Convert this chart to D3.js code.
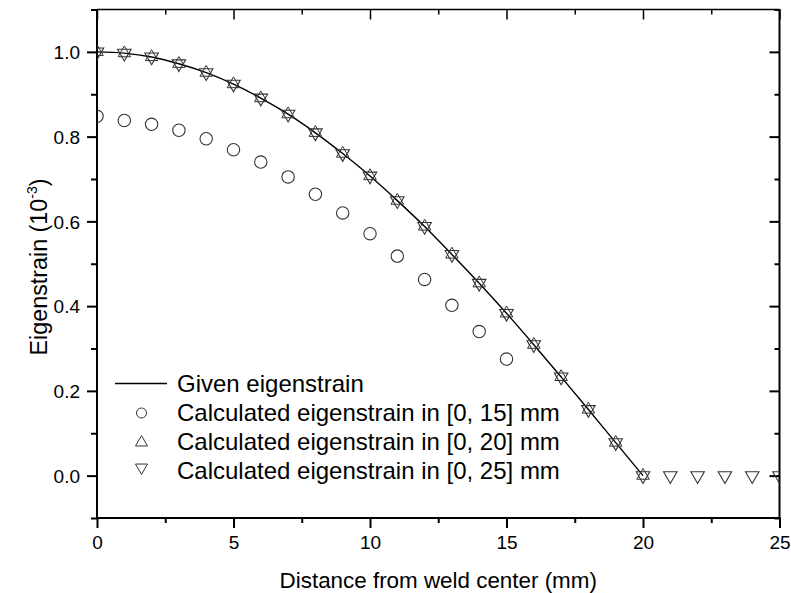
<!DOCTYPE html>
<html>
<head>
<meta charset="utf-8">
<script src="https://cdn.jsdelivr.net/npm/d3@7/dist/d3.min.js"></script>
<style>
  html, body { margin: 0; padding: 0; background: #fff; }
  svg { display: block; font-family: "Liberation Sans", Arial, sans-serif; }
</style>
</head>
<body>
<svg id="chart" width="791" height="593"></svg>
<script>
// ---- data ----
const xGiven = [0,1,2,3,4,5,6,7,8,9,10,11,12,13,14,15,16,17,18,19,20];
const givenValues = [1.000,0.997,0.988,0.972,0.951,0.924,0.891,0.853,0.809,0.760,0.707,0.649,0.588,0.522,0.454,0.383,0.309,0.233,0.156,0.078,0.000];

const x15 = [0,1,2,3,4,5,6,7,8,9,10,11,12,13,14,15];
const calc15 = [0.848,0.838,0.829,0.815,0.795,0.769,0.740,0.705,0.664,0.620,0.571,0.518,0.463,0.402,0.340,0.275];

const x20 = [0,1,2,3,4,5,6,7,8,9,10,11,12,13,14,15,16,17,18,19,20];
const calc20 = [1.000,0.997,0.988,0.972,0.951,0.924,0.891,0.853,0.809,0.760,0.707,0.649,0.588,0.522,0.454,0.383,0.309,0.233,0.156,0.078,0.000];

const x25 = [0,1,2,3,4,5,6,7,8,9,10,11,12,13,14,15,16,17,18,19,20,21,22,23,24,25];
const calc25 = [1.000,0.997,0.988,0.972,0.951,0.924,0.891,0.853,0.809,0.760,0.707,0.649,0.588,0.522,0.454,0.383,0.309,0.233,0.156,0.078,0.000,0.000,0.000,0.000,0.000,0.000];

const xMajorTicks = [0,5,10,15,20,25];
const xMinorTicks = [2.5,7.5,12.5,17.5,22.5];
const yMajorTicks = [0.0,0.2,0.4,0.6,0.8,1.0];
const yMinorTicks = [-0.1,0.1,0.3,0.5,0.7,0.9,1.1];

const legendLabels = [
  "Given eigenstrain",
  "Calculated eigenstrain in [0, 15] mm",
  "Calculated eigenstrain in [0, 20] mm",
  "Calculated eigenstrain in [0, 25] mm"
];
const xTitle = "Distance from weld center (mm)";
const yTitle = "Eigenstrain (10";
const yTitleSup = "-3";

// ---- layout ----
const L = 97, R = 779.5, T = 9.5, B = 518;
const svg = d3.select("#chart");
const x = d3.scaleLinear().domain([0, 25]).range([L, R]);
const y = d3.scaleLinear().domain([-0.1, 1.1]).range([B, T]);

svg.append("defs").append("clipPath").attr("id", "plotclip")
  .append("rect").attr("x", L).attr("y", T).attr("width", R - L).attr("height", B - T);

// ---- axes ----
function styleAxis(g, sw) {
  g.select(".domain").remove();
  g.selectAll(".tick line").attr("stroke", "#000").attr("stroke-width", sw);
}
const tickFont = 19;
const FF = "Liberation Sans, Arial, sans-serif";

svg.append("g").attr("transform", `translate(0,${B})`)
  .call(d3.axisBottom(x).tickValues(xMajorTicks).tickSize(10).tickFormat(d3.format("d")))
  .call(g => styleAxis(g, 2))
  .call(g => g.selectAll("text").attr("font-size", tickFont).attr("fill", "#000")
      .attr("font-family", FF).attr("dy", "0.71em").attr("y", 18));
svg.append("g").attr("transform", `translate(0,${B})`)
  .call(d3.axisBottom(x).tickValues(xMinorTicks).tickSize(5).tickFormat(""))
  .call(g => styleAxis(g, 2));

svg.append("g").attr("transform", `translate(${L},0)`)
  .call(d3.axisLeft(y).tickValues(yMajorTicks).tickSize(10).tickPadding(7).tickFormat(d3.format(".1f")))
  .call(g => styleAxis(g, 2))
  .call(g => g.selectAll("text").attr("font-size", tickFont).attr("fill", "#000")
      .attr("font-family", FF).attr("dy", "0.36em"));
svg.append("g").attr("transform", `translate(${L},0)`)
  .call(d3.axisLeft(y).tickValues(yMinorTicks).tickSize(6).tickFormat(""))
  .call(g => styleAxis(g, 2));

// top (inward)
svg.append("g").attr("transform", `translate(0,${T})`)
  .call(d3.axisBottom(x).tickValues(xMajorTicks).tickSize(10).tickFormat(""))
  .call(g => styleAxis(g, 1.5));
svg.append("g").attr("transform", `translate(0,${T})`)
  .call(d3.axisBottom(x).tickValues(xMinorTicks).tickSize(5).tickFormat(""))
  .call(g => styleAxis(g, 1.5));
// right (inward)
svg.append("g").attr("transform", `translate(${R},0)`)
  .call(d3.axisLeft(y).tickValues(yMajorTicks).tickSize(10).tickFormat(""))
  .call(g => styleAxis(g, 2));
svg.append("g").attr("transform", `translate(${R},0)`)
  .call(d3.axisLeft(y).tickValues(yMinorTicks).tickSize(5).tickFormat(""))
  .call(g => styleAxis(g, 2));

// frame
svg.append("line").attr("x1", L).attr("x2", R).attr("y1", T).attr("y2", T).attr("stroke", "#000").attr("stroke-width", 1.3);
svg.append("line").attr("x1", L).attr("x2", R + 1).attr("y1", B).attr("y2", B).attr("stroke", "#000").attr("stroke-width", 2);
svg.append("line").attr("x1", L).attr("x2", L).attr("y1", T - 0.6).attr("y2", B + 1).attr("stroke", "#000").attr("stroke-width", 2);
svg.append("line").attr("x1", R).attr("x2", R).attr("y1", T - 0.6).attr("y2", B + 1).attr("stroke", "#000").attr("stroke-width", 2);

// ---- marks ----
const plot = svg.append("g").attr("clip-path", "url(#plotclip)");

const lineGen = d3.line().x(d => x(d[0])).y(d => y(d[1])).curve(d3.curveMonotoneX);
plot.append("path")
  .datum(xGiven.map((v, i) => [v, givenValues[i]]))
  .attr("d", lineGen).attr("fill", "none").attr("stroke", "#000").attr("stroke-width", 1.4);

function triPath(s, up) {
  const h = s * Math.sqrt(3) / 2;
  if (up) return `M0,${-2*h/3}L${s/2},${h/3}L${-s/2},${h/3}Z`;
  return `M0,${2*h/3}L${s/2},${-h/3}L${-s/2},${-h/3}Z`;
}
const markStroke = "#333";

plot.selectAll(".c15").data(x15.map((v, i) => [v, calc15[i]])).join("circle")
  .attr("cx", d => x(d[0])).attr("cy", d => y(d[1])).attr("r", 6.2)
  .attr("fill", "none").attr("stroke", markStroke).attr("stroke-width", 1.1);

plot.selectAll(".c20").data(x20.map((v, i) => [v, calc20[i]])).join("path")
  .attr("transform", d => `translate(${x(d[0])},${y(d[1])})`)
  .attr("d", triPath(12.5, true))
  .attr("fill", "none").attr("stroke", markStroke).attr("stroke-width", 1);

plot.selectAll(".c25").data(x25.map((v, i) => [v, calc25[i]])).join("path")
  .attr("transform", d => `translate(${x(d[0])},${y(d[1])})`)
  .attr("d", triPath(13.5, false))
  .attr("fill", "none").attr("stroke", markStroke).attr("stroke-width", 1.1);

// ---- legend ----
const legFont = 24;
const legX = 177, legRows = [391.5, 421, 450, 479];
const legMX = 141.5;
const leg = svg.append("g");
leg.append("line").attr("x1", 115).attr("x2", 167).attr("y1", legRows[0] - 8).attr("y2", legRows[0] - 8)
  .attr("stroke", "#000").attr("stroke-width", 1.5);
leg.append("circle").attr("cx", legMX).attr("cy", legRows[1] - 8).attr("r", 5)
  .attr("fill", "none").attr("stroke", markStroke).attr("stroke-width", 1);
leg.append("path").attr("transform", `translate(${legMX},${legRows[2] - 7.5})`).attr("d", triPath(12, true))
  .attr("fill", "none").attr("stroke", markStroke).attr("stroke-width", 1);
leg.append("path").attr("transform", `translate(${legMX},${legRows[3] - 11.5})`).attr("d", triPath(12, false))
  .attr("fill", "none").attr("stroke", markStroke).attr("stroke-width", 1);
leg.selectAll("text").data(legendLabels).join("text")
  .attr("x", legX).attr("y", (d, i) => legRows[i])
  .attr("font-size", legFont).attr("fill", "#000").text(d => d);

// ---- titles ----
svg.append("text").attr("x", (L + R) / 2).attr("y", 588).attr("text-anchor", "middle")
  .attr("font-size", 22.4).attr("fill", "#000").text(xTitle);

const yt = svg.append("text").attr("transform", "translate(46.5,267) rotate(-90)")
  .attr("text-anchor", "middle").attr("font-size", 23.3).attr("fill", "#000");
yt.append("tspan").text(yTitle);
yt.append("tspan").attr("font-size", 14).attr("dy", -10).text(yTitleSup);
yt.append("tspan").attr("dy", 10).text(")");
</script>
</body>
</html>
